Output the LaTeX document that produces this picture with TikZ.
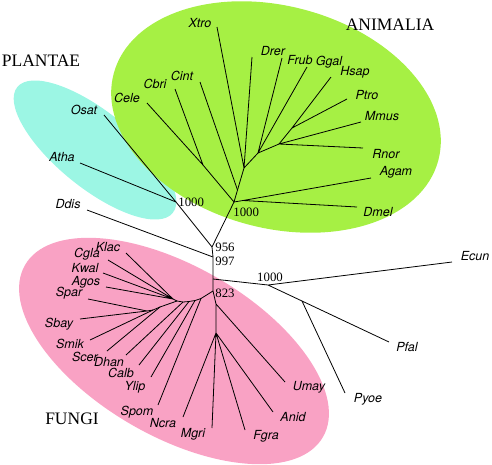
\documentclass[tikz,border=0pt]{standalone}
\usepackage{fontspec}
\setmainfont{Liberation Serif}
\newfontfamily\taxfont{TeX Gyre Heros}

\definecolor{plantcol}{RGB}{156,246,228}
\definecolor{animcol}{RGB}{166,240,68}
\definecolor{fungcol}{RGB}{249,162,196}

\begin{document}
\begin{tikzpicture}[x=1pt, y=-1pt, line width=0.8pt,
    taxon/.style={font=\taxfont\itshape\fontsize{12.5}{14}\selectfont, inner sep=0pt},
    boot/.style={font=\fontsize{12.8}{14}\selectfont, inner sep=0pt, anchor=west},
    kingdom/.style={font=\fontsize{17.5}{20}\selectfont, inner sep=0pt}]

    \useasboundingbox (0,0) rectangle (492,464);

    % Groups
    \fill[plantcol, rotate around={-39:(95,150)}] (95,150) ellipse (100 and 38);
    \fill[animcol, rotate around={-15:(276,117)}] (276,117) ellipse (168 and 111);
    \fill[fungcol, rotate around={-30:(174,351)}] (174,351) ellipse (172 and 85);

    % Inner nodes
    \coordinate (N956) at (212,247);
    \coordinate (N997) at (213,257);
    \coordinate (N0) at (213,279);
    \coordinate (P0) at (176,202);
    \coordinate (A0) at (234,202);
    \coordinate (A1) at (237.5,190);
    \coordinate (A2) at (244,168);
    \coordinate (A3) at (258,153);
    \coordinate (A4) at (279,144);
    \coordinate (A5) at (292,128);
    \coordinate (Ai) at (243,200.5);
    \coordinate (C1) at (203,165);
    \coordinate (E1) at (268,285);
    \coordinate (E2) at (302,301);
    \coordinate (F0) at (213,291);
    \coordinate (F1) at (216,304);
    \coordinate (F2) at (216,333);
    \coordinate (Y1) at (201,298.5);
    \coordinate (Y2) at (195,300.5);
    \coordinate (Y3) at (189,301.5);
    \coordinate (Y4) at (183,302);
    \coordinate (Y5) at (177,301);
    \coordinate (Yk) at (173,299);
    \coordinate (Ys2) at (160,307);
    \coordinate (Ys3) at (153,310);
    \coordinate (Ys) at (147,311);

    % Leaves
    \coordinate (Xtro) at (217,27);
    \coordinate (Drer) at (252,57);
    \coordinate (Frub) at (282,58);
    \coordinate (Ggal) at (307,67);
    \coordinate (Hsap) at (331,77);
    \coordinate (Ptro) at (347,99);
    \coordinate (Mmus) at (361,122);
    \coordinate (Rnor) at (363,148);
    \coordinate (Agam) at (371,178);
    \coordinate (Dmel) at (357,207);
    \coordinate (Cint) at (200,82);
    \coordinate (Cbri) at (175,89);
    \coordinate (Cele) at (147,103);
    \coordinate (Osat) at (104,115);
    \coordinate (Atha) at (80,163);
    \coordinate (Ddis) at (87,210);
    \coordinate (Ecun) at (452,262);
    \coordinate (Pfal) at (389,342);
    \coordinate (Pyoe) at (345,393);
    \coordinate (Umay) at (285,382);
    \coordinate (Anid) at (273,412);
    \coordinate (Fgra) at (245,430);
    \coordinate (Mgri) at (212,428);
    \coordinate (Ncra) at (183,417);
    \coordinate (Spom) at (158,405);
    \coordinate (Ylip) at (151,377);
    \coordinate (Calb) at (139,365);
    \coordinate (Dhan) at (126,355);
    \coordinate (Scer) at (107,351);
    \coordinate (Smik) at (90,340);
    \coordinate (Sbay) at (80,319);
    \coordinate (Spar) at (88,299);
    \coordinate (Agos) at (106,287);
    \coordinate (Kwal) at (103,273);
    \coordinate (Cgla) at (108,260);
    \coordinate (Klac) at (126,253);

    % Branches
    \draw (N956) -- (N997) -- (N0) -- (F0);
    \draw (N956) -- (P0) (N956) -- (A0);
    \draw (N997) -- (Ddis);
    \draw (P0) -- (Osat) (P0) -- (Atha);
    \draw (A0) -- (C1) (A0) -- (Ai) (A0) -- (A1) -- (A2);
    \draw (C1) -- (Cele) (C1) -- (Cbri);
    \draw (A1) -- (Cint);
    \draw (Ai) -- (Agam) (Ai) -- (Dmel);
    \draw (A2) -- (Xtro) (A2) -- (Drer) (A2) -- (A3);
    \draw (A3) -- (Frub) (A3) -- (Ggal) (A3) -- (A4);
    \draw (A4) -- (A5) (A4) -- (Mmus) (A4) -- (Rnor);
    \draw (A5) -- (Hsap) (A5) -- (Ptro);
    \draw (N0) -- (E1) -- (Ecun) (E1) -- (E2);
    \draw (E2) -- (Pfal) (E2) -- (Pyoe);
    \draw (F0) -- (F1) -- (F2) (F1) -- (Umay);
    \draw (F2) -- (Ncra) (F2) -- (Mgri) (F2) -- (Fgra) (F2) -- (Anid);
    \draw (F0) -- (Y1) -- (Y2) -- (Y3) -- (Y4) -- (Y5) -- (Yk);
    \draw (Y1) -- (Spom) (Y2) -- (Ylip) (Y3) -- (Calb) (Y4) -- (Dhan);
    \draw (Y5) -- (Ys2) -- (Ys3) -- (Ys);
    \draw (Ys2) -- (Scer) (Ys3) -- (Smik) (Ys) -- (Sbay) (Ys) -- (Spar);
    \draw (Yk) -- (Agos) (Yk) -- (Kwal) (Yk) -- (Cgla) (Yk) -- (Klac);

    % Taxon labels
    \node[taxon] (tXtro) at (200,23) {Xtro};
    \node[taxon] (tDrer) at (273,51) {Drer};
    \node[taxon] (tFrub) at (300,60) {Frub};
    \node[taxon] (tGgal) at (329,62) {Ggal};
    \node[taxon] (tHsap) at (355,72) {Hsap};
    \node[taxon] (tPtro) at (367,95) {Ptro};
    \node[taxon] (tMmus) at (382,116) {Mmus};
    \node[taxon] (tRnor) at (386,154) {Rnor};
    \node[taxon] (tAgam) at (396,172) {Agam};
    \node[taxon] (tDmel) at (378,212) {Dmel};
    \node[taxon] (tCint) at (182,76) {Cint};
    \node[taxon] (tCbri) at (155,84) {Cbri};
    \node[taxon] (tCele) at (127,98) {Cele};
    \node[taxon] (tOsat) at (84,110) {Osat};
    \node[taxon] (tAtha) at (62,157) {Atha};
    \node[taxon] (tDdis) at (68,204) {Ddis};
    \node[taxon] (tEcun) at (475,256) {Ecun};
    \node[taxon] (tPfal) at (407,347) {Pfal};
    \node[taxon] (tPyoe) at (368,399) {Pyoe};
    \node[taxon] (tUmay) at (309,387) {Umay};
    \node[taxon] (tAnid) at (293,417) {Anid};
    \node[taxon] (tFgra) at (266,436) {Fgra};
    \node[taxon] (tMgri) at (193,434) {Mgri};
    \node[taxon] (tNcra) at (163,423) {Ncra};
    \node[taxon] (tSpom) at (137,412) {Spom};
    \node[taxon] (tYlip) at (135,387) {Ylip};
    \node[taxon] (tCalb) at (121,373) {Calb};
    \node[taxon] (tDhan) at (109,362) {Dhan};
    \node[taxon] (tScer) at (85,357) {Scer};
    \node[taxon] (tSmik) at (70,344) {Smik};
    \node[taxon] (tSbay) at (59,324) {Sbay};
    \node[taxon] (tSpar) at (69,293) {Spar};
    \node[taxon] (tAgos) at (86,282) {Agos};
    \node[taxon] (tKwal) at (85,268) {Kwal};
    \node[taxon] (tCgla) at (87,254) {Cgla};
    \node[taxon] (tKlac) at (108,247) {Klac};

    % Support values
    \node[boot] (b956) at (215,247) {956};
    \node[boot] (b997) at (215,261) {997};
    \node[boot] (b823) at (215,293) {823};
    \node[boot] (bPla) at (178,202) {1000};
    \node[boot] (bAni) at (233,212) {1000};
    \node[boot, anchor=center] (bEcu) at (270,277) {1000};

    % Kingdoms
    \node[kingdom] (kPla) at (41,61) {PLANTAE};
    \node[kingdom] (kAni) at (390,25) {ANIMALIA};
    \node[kingdom] (kFun) at (72,419) {FUNGI};
\end{tikzpicture}
\end{document}
